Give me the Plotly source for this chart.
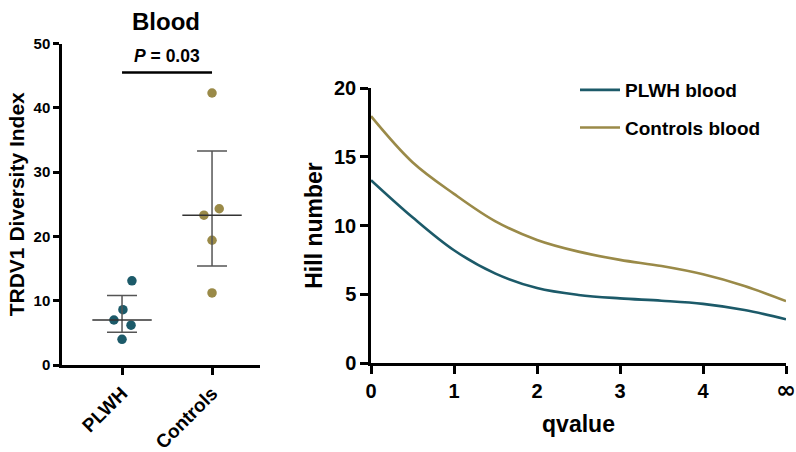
import plotly.graph_objects as go

# ---------------- data ----------------
groups = ["PLWH", "Controls"]
plwh_values = [13.1, 8.6, 7.0, 6.2, 4.0]
controls_values = [42.3, 23.3, 24.3, 19.4, 11.2]
center_values = [7.0, 23.3]
upper_values = [10.8, 33.3]
lower_values = [5.1, 15.4]
p_text = "<i>P</i> = 0.03"

q_values = [0, 0.5, 1, 1.5, 2, 2.5, 3, 3.5, 4, 4.5, 5]
q_tick_labels = ["0", "1", "2", "3", "4", "∞"]
plwh_hill = [13.3, 10.6, 8.2, 6.5, 5.45, 4.95, 4.7, 4.53, 4.3, 3.85, 3.18]
controls_hill = [17.95, 14.6, 12.3, 10.3, 8.95, 8.1, 7.5, 7.05, 6.45, 5.6, 4.5]
left_y_ticks = [0, 10, 20, 30, 40, 50]
right_y_ticks = [0, 5, 10, 15, 20]

# ---------------- style ----------------
W, H = 796, 452
TEAL = "#1c5a69"
OLIVE = "#9a8a48"
FONT = "Liberation Sans, Arial, sans-serif"
jitter = [[0.11, 0.01, -0.09, 0.10, 0.0], [0.0, -0.09, 0.08, 0.0, 0.0]]


def px_x(p):
    return p / W


def px_y(p):
    return (H - p) / H


fig = go.Figure()

# left panel: dot plot
for gi, (vals, col) in enumerate([(plwh_values, TEAL), (controls_values, OLIVE)]):
    fig.add_trace(go.Scatter(
        x=[gi + j for j in jitter[gi]], y=vals, mode="markers",
        marker=dict(color=col, size=9.5), showlegend=False,
        xaxis="x", yaxis="y", hoverinfo="y"))
    fig.add_trace(go.Scatter(
        x=[gi], y=[center_values[gi]], mode="markers",
        marker=dict(size=1, color="rgba(0,0,0,0)"),
        error_y=dict(type="data", symmetric=False,
                     array=[upper_values[gi] - center_values[gi]],
                     arrayminus=[center_values[gi] - lower_values[gi]],
                     color="#555555", thickness=1.5, width=15),
        showlegend=False, xaxis="x", yaxis="y", hoverinfo="skip"))
    fig.add_trace(go.Scatter(
        x=[gi - 0.33, gi + 0.33], y=[center_values[gi]] * 2, mode="lines",
        line=dict(color="#333333", width=1.6), showlegend=False,
        xaxis="x", yaxis="y", hoverinfo="skip"))

# right panel: hill curves
fig.add_trace(go.Scatter(
    x=q_values, y=plwh_hill, mode="lines", name="PLWH blood",
    line=dict(color=TEAL, width=2.6, shape="spline", smoothing=1.0),
    xaxis="x2", yaxis="y2", legendgroup="a"))
fig.add_trace(go.Scatter(
    x=q_values, y=controls_hill, mode="lines", name="Controls blood",
    line=dict(color=OLIVE, width=2.6, shape="spline", smoothing=1.0),
    xaxis="x2", yaxis="y2", legendgroup="b"))

axis_common = dict(showgrid=False, zeroline=False, showline=True,
                   linecolor="black", linewidth=2.5, ticks="outside",
                   tickcolor="black", tickwidth=2.5, mirror=False,
                   automargin=False)

inf_label = '<span style="font-family:DejaVu Sans;font-size:24px">∞</span>'
q_ticktext = q_tick_labels[:-1] + [inf_label if q_tick_labels[-1] == "∞" else q_tick_labels[-1]]

fig.update_layout(
    width=W, height=H,
    margin=dict(l=0, r=0, t=0, b=0),
    paper_bgcolor="white", plot_bgcolor="white",
    font=dict(family=FONT, color="black"),
    xaxis=dict(domain=[px_x(62), px_x(260)], range=[-0.667, 1.533],
               tickvals=[0, 1], ticktext=groups, tickangle=-45, ticklen=7,
               tickfont=dict(size=19, weight="bold"), anchor="y",
               **axis_common),
    yaxis=dict(domain=[px_y(365), px_y(43.5)], range=[0, 50],
               tickvals=left_y_ticks, ticklen=6,
               tickfont=dict(size=15, weight="bold"), anchor="x",
               title=dict(text="TRDV1 Diversity Index",
                          font=dict(size=21, weight="bold"), standoff=4),
               **axis_common),
    xaxis2=dict(domain=[px_x(371), px_x(786)], range=[0, 5],
                tickvals=list(range(6)), ticktext=q_ticktext, ticklen=8,
                tickfont=dict(size=20, weight="bold"), anchor="y2",
                title=dict(text="qvalue", font=dict(size=23, weight="bold"),
                           standoff=14),
                **axis_common),
    yaxis2=dict(domain=[px_y(363), px_y(88)], range=[0, 20],
                tickvals=right_y_ticks, ticklen=8,
                tickfont=dict(size=20, weight="bold"), anchor="x2",
                title=dict(text="Hill number", font=dict(size=23, weight="bold"),
                           standoff=5),
                **axis_common),
    legend=dict(x=px_x(575), y=px_y(71), xanchor="left", yanchor="top",
                font=dict(size=19, weight="bold"), tracegroupgap=10,
                itemwidth=40, bgcolor="rgba(0,0,0,0)"),
    shapes=[dict(type="line", xref="x", yref="y", x0=0, x1=1, y0=45.5, y1=45.5,
                 line=dict(color="black", width=2.5))],
    annotations=[
        dict(text="Blood", xref="paper", yref="paper", x=px_x(166), y=px_y(22),
             xanchor="center", yanchor="middle", showarrow=False,
             font=dict(size=24, weight="bold")),
        dict(text=p_text, xref="x", yref="y", x=0.5, y=46.2,
             xanchor="center", yanchor="bottom", showarrow=False,
             font=dict(size=17.5, weight="bold")),
    ],
)

fig.write_html("out.html", config={"displayModeBar": False},
               post_script="document.body.style.margin='0px';")
